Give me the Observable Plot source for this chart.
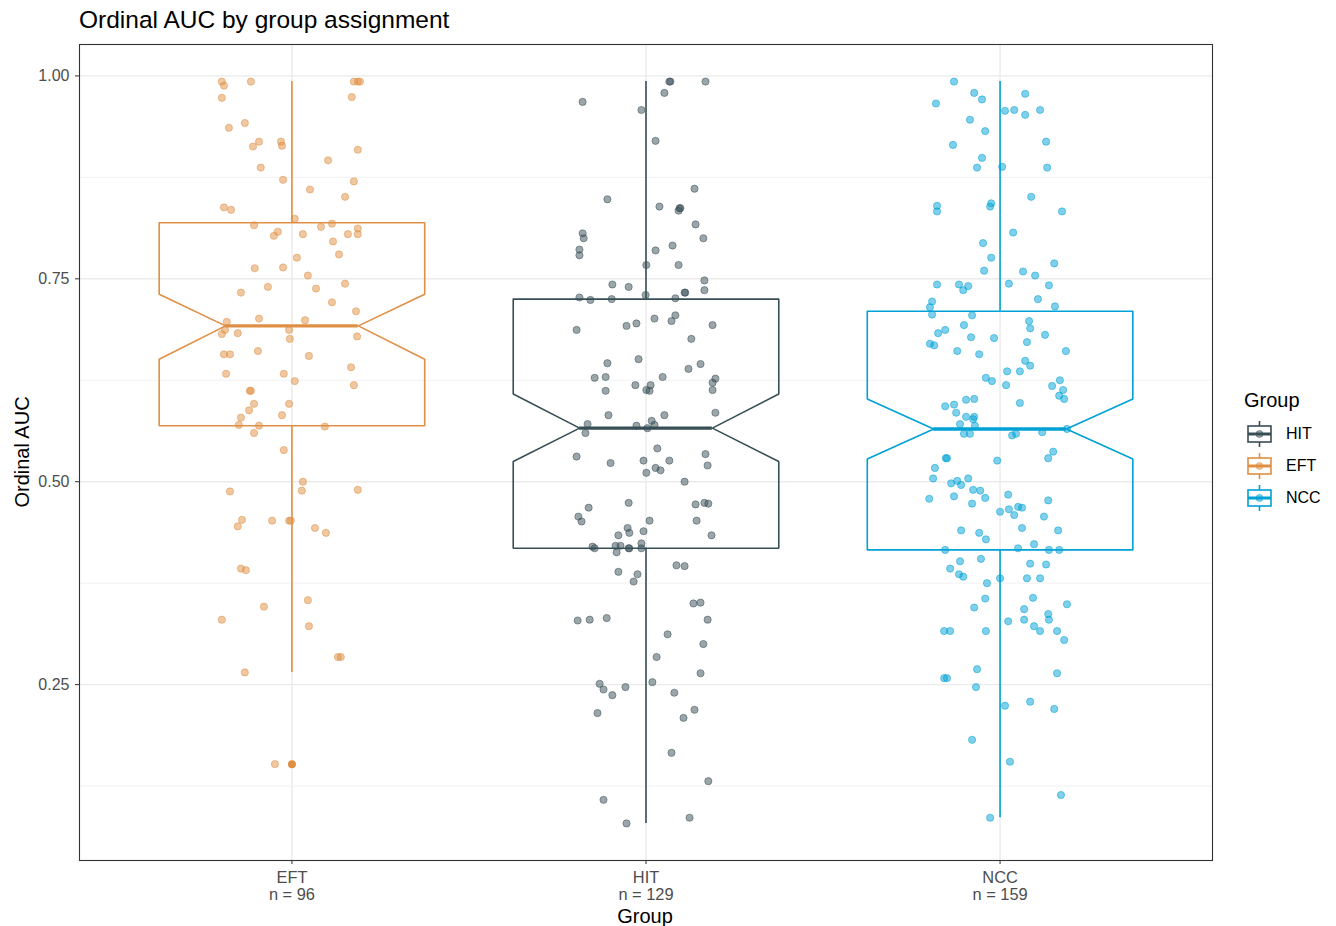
<!DOCTYPE html>
<html><head><meta charset="utf-8">
<script src="https://cdn.jsdelivr.net/npm/d3@7"></script>
<script src="https://cdn.jsdelivr.net/npm/@observablehq/plot@0.6"></script>
<style>
body{margin:0;background:#fff;font-family:"Liberation Sans",Arial,Helvetica,sans-serif;}
#wrap{position:relative;width:1336px;height:926px;overflow:hidden;background:#fff;}
#wrap > svg{position:absolute;left:0;top:0;}
.abs{position:absolute;white-space:nowrap;line-height:1;color:#000;}
</style></head><body>
<div id="wrap"></div>
<script>
// ---- data ----
const groups = ["EFT", "HIT", "NCC"];
const groupN = [96, 129, 159];
const legendOrder = ["HIT", "EFT", "NCC"];
const palette = ["#374E55", "#DF8F44", "#00A1D5"];

// box statistics (per group, same order as groups)
const q1 = [0.569, 0.418, 0.416];
const median = [0.692, 0.566, 0.565];
const q3 = [0.819, 0.725, 0.710];
const notchLow = [0.651, 0.525, 0.528];
const notchHigh = [0.731, 0.608, 0.602];
const whiskerLow = [0.265, 0.079, 0.086];
const whiskerHigh = [0.993, 0.993, 0.993];
const outlierGroup = ["EFT"];
const outlierValue = [0.152];

// jittered observations: value and horizontal jitter (in category units)
const eftValues = [0.993,0.988,0.993,0.973,0.993,0.993,0.993,0.974,0.936,0.942,0.913,0.919,0.919,0.914,0.909,0.896,0.887,0.872,0.870,0.860,0.851,0.838,0.835,0.824,0.816,0.808,0.803,0.805,0.814,0.818,0.812,0.805,0.805,0.796,0.780,0.776,0.763,0.764,0.754,0.733,0.740,0.738,0.744,0.721,0.710,0.701,0.697,0.699,0.687,0.682,0.683,0.687,0.676,0.679,0.657,0.657,0.661,0.655,0.633,0.633,0.624,0.641,0.619,0.612,0.612,0.596,0.588,0.596,0.579,0.582,0.570,0.569,0.560,0.568,0.539,0.500,0.488,0.489,0.490,0.453,0.445,0.452,0.452,0.452,0.443,0.437,0.393,0.391,0.346,0.354,0.330,0.322,0.284,0.284,0.265,0.152];
const eftJitter = [-0.198,-0.192,-0.116,-0.198,0.175,0.186,0.192,0.169,-0.178,-0.133,-0.110,-0.093,-0.031,-0.028,0.186,0.102,-0.088,-0.025,0.175,0.051,0.150,-0.192,-0.172,0.008,-0.107,-0.040,-0.051,0.031,0.082,0.113,0.186,0.158,0.186,0.116,0.133,0.014,-0.105,-0.025,0.045,-0.144,-0.068,0.068,0.150,0.113,0.181,-0.093,-0.184,0.037,-0.189,-0.198,-0.153,-0.008,-0.006,0.184,-0.192,-0.175,-0.096,0.048,-0.186,-0.023,0.008,0.167,0.175,-0.116,-0.119,-0.107,-0.121,-0.008,-0.144,-0.028,-0.150,-0.093,-0.107,0.093,-0.023,0.031,-0.175,0.028,0.186,-0.141,-0.153,-0.056,-0.008,-0.003,0.065,0.096,-0.144,-0.130,-0.079,0.045,-0.198,0.048,0.130,0.138,-0.133,-0.048];

const hitValues = [0.993,0.993,0.993,0.979,0.968,0.958,0.920,0.861,0.848,0.839,0.837,0.837,0.834,0.817,0.806,0.800,0.800,0.786,0.779,0.791,0.785,0.767,0.767,0.743,0.740,0.748,0.736,0.733,0.733,0.727,0.724,0.725,0.730,0.726,0.687,0.692,0.695,0.701,0.698,0.705,0.693,0.676,0.646,0.651,0.639,0.645,0.628,0.629,0.629,0.627,0.619,0.619,0.612,0.613,0.612,0.622,0.613,0.582,0.582,0.585,0.571,0.560,0.569,0.575,0.570,0.566,0.531,0.541,0.534,0.523,0.526,0.526,0.520,0.511,0.517,0.514,0.500,0.468,0.474,0.457,0.451,0.472,0.474,0.473,0.452,0.452,0.443,0.437,0.439,0.434,0.434,0.420,0.418,0.421,0.421,0.418,0.418,0.424,0.418,0.413,0.389,0.386,0.377,0.397,0.396,0.350,0.351,0.329,0.330,0.332,0.330,0.312,0.300,0.284,0.264,0.251,0.244,0.237,0.247,0.253,0.240,0.215,0.209,0.219,0.166,0.131,0.108,0.086,0.079];
const hitJitter = [0.066,0.069,0.168,0.052,-0.179,-0.013,0.027,0.137,-0.109,0.038,0.095,0.097,0.092,0.140,-0.179,-0.176,0.162,-0.188,-0.188,0.075,0.027,0.001,0.092,-0.095,-0.049,0.165,0.165,0.109,0.111,-0.188,-0.157,-0.097,-0.001,0.083,-0.196,-0.055,-0.027,0.024,0.072,0.083,0.188,0.128,-0.109,-0.021,0.120,0.154,-0.145,-0.114,0.047,0.196,-0.030,0.013,-0.114,0.001,0.010,0.188,0.188,-0.106,0.052,0.196,-0.165,-0.171,-0.027,0.016,0.024,0.004,-0.196,0.032,0.168,-0.100,-0.007,0.066,0.174,0.001,0.027,0.041,0.109,-0.162,-0.049,-0.191,-0.182,0.140,0.165,0.176,0.143,0.010,-0.052,-0.047,-0.007,-0.078,0.185,-0.151,-0.145,-0.086,-0.072,-0.049,-0.047,-0.013,-0.013,-0.083,-0.078,-0.024,-0.035,0.086,0.109,0.134,0.154,-0.193,-0.159,-0.111,0.174,0.061,0.162,0.030,0.154,-0.131,-0.120,-0.095,-0.058,0.018,0.080,-0.137,0.106,0.137,0.072,0.176,-0.120,0.123,-0.055];

const nccValues = [0.993,0.979,0.971,0.966,0.978,0.957,0.958,0.952,0.958,0.946,0.932,0.915,0.919,0.899,0.887,0.888,0.887,0.851,0.840,0.833,0.843,0.839,0.833,0.807,0.794,0.776,0.769,0.760,0.759,0.754,0.743,0.743,0.736,0.741,0.744,0.742,0.722,0.715,0.706,0.725,0.716,0.705,0.698,0.689,0.693,0.687,0.683,0.678,0.677,0.681,0.670,0.668,0.661,0.657,0.672,0.661,0.649,0.643,0.636,0.636,0.628,0.624,0.619,0.618,0.625,0.613,0.606,0.602,0.601,0.602,0.593,0.595,0.585,0.597,0.580,0.580,0.577,0.571,0.569,0.559,0.559,0.557,0.559,0.561,0.565,0.529,0.529,0.526,0.529,0.537,0.517,0.504,0.498,0.501,0.496,0.504,0.490,0.489,0.480,0.482,0.479,0.473,0.484,0.477,0.463,0.466,0.459,0.469,0.468,0.457,0.443,0.440,0.437,0.429,0.440,0.416,0.418,0.423,0.416,0.416,0.402,0.405,0.399,0.398,0.393,0.386,0.383,0.381,0.381,0.381,0.375,0.357,0.356,0.345,0.349,0.343,0.337,0.330,0.330,0.328,0.322,0.316,0.316,0.305,0.316,0.316,0.316,0.258,0.258,0.269,0.264,0.247,0.224,0.229,0.220,0.182,0.155,0.114,0.086];
const nccJitter = [-0.130,-0.073,-0.051,-0.181,0.071,0.014,0.040,0.071,0.113,-0.085,-0.042,-0.133,0.130,-0.051,-0.065,0.006,0.133,0.088,-0.178,-0.178,-0.025,-0.028,0.175,0.037,-0.048,-0.025,0.153,-0.045,0.065,0.099,-0.178,-0.116,-0.104,-0.090,0.025,0.138,-0.192,-0.198,-0.192,0.107,0.155,-0.079,0.082,0.085,-0.102,-0.155,-0.175,-0.082,-0.017,0.127,-0.198,-0.186,-0.121,-0.059,0.076,0.186,0.071,0.085,0.020,0.056,-0.040,-0.023,0.017,0.147,0.169,0.178,0.167,0.181,-0.096,-0.073,-0.155,-0.130,-0.124,0.056,-0.096,-0.073,-0.076,-0.113,-0.071,-0.102,-0.085,0.034,0.045,0.119,0.189,-0.153,-0.150,-0.008,0.136,0.150,-0.184,-0.189,-0.138,-0.121,-0.110,-0.090,-0.076,-0.056,-0.042,-0.130,-0.200,-0.079,0.023,0.136,0.000,0.025,0.040,0.051,0.062,0.124,0.062,-0.110,-0.059,-0.040,0.164,-0.155,0.051,0.096,0.138,0.167,-0.113,-0.054,0.085,0.130,-0.141,-0.116,-0.104,0.000,0.076,0.113,-0.037,0.093,-0.042,-0.073,0.189,0.068,0.136,0.138,0.068,0.023,0.096,0.113,0.161,0.181,-0.158,-0.141,-0.040,-0.158,-0.150,-0.065,0.161,-0.068,0.014,0.085,0.153,-0.079,0.028,0.172,-0.028];

const yTicks = [0.25, 0.50, 0.75, 1.00];
const yMinorTicks = [0.125, 0.375, 0.625, 0.875];

// ---- build tables ----
const valuesBy = {EFT: eftValues, HIT: hitValues, NCC: nccValues};
const jitterBy = {EFT: eftJitter, HIT: hitJitter, NCC: nccJitter};
const points = [];
groups.forEach((g, i) => {
  valuesBy[g].forEach((v, k) => {
    const j = jitterBy[g][k];
    if (j !== undefined) points.push({group: g, pos: i + 1 + j, value: v});
  });
});
const stats = groups.map((g, i) => ({group: g, pos: i + 1, q1: q1[i], med: median[i], q3: q3[i],
  nl: notchLow[i], nh: notchHigh[i], wl: whiskerLow[i], wh: whiskerHigh[i]}));
const halfW = 0.375, indent = 0.1875;
const outline = stats.flatMap(s => [
  [s.pos - halfW, s.q3], [s.pos - halfW, s.nh], [s.pos - halfW + indent, s.med], [s.pos - halfW, s.nl],
  [s.pos - halfW, s.q1], [s.pos + halfW, s.q1], [s.pos + halfW, s.nl], [s.pos + halfW - indent, s.med],
  [s.pos + halfW, s.nh], [s.pos + halfW, s.q3], [s.pos - halfW, s.q3]
].map(([pos, value]) => ({group: s.group, pos, value})));
const outliers = outlierGroup.map((g, i) => ({group: g, pos: groups.indexOf(g) + 1, value: outlierValue[i]}));

const allVals = [...eftValues, ...hitValues, ...nccValues];
const lo = d3.min(allVals), hi = d3.max(allVals), pad = (hi - lo) * 0.05;

const W = 1336, H = 926;
const chart = Plot.plot({
  width: W, height: H,
  marginLeft: 79, marginRight: 124, marginTop: 44, marginBottom: 66,
  style: {fontFamily: '"Liberation Sans", Arial, sans-serif', fontSize: "16px", background: "transparent", overflow: "visible"},
  x: {domain: [0.4, 3.6], axis: null},
  y: {domain: [lo - pad, hi + pad], axis: null},
  color: {domain: legendOrder, range: palette},
  marks: [
    Plot.gridY(yMinorTicks, {stroke: "#EBEBEB", strokeOpacity: 1, strokeWidth: 0.7}),
    Plot.gridY(yTicks, {stroke: "#EBEBEB", strokeOpacity: 1, strokeWidth: 1.4}),
    Plot.gridX([1, 2, 3], {stroke: "#EBEBEB", strokeOpacity: 1, strokeWidth: 1.4}),
    Plot.line(outline, {x: "pos", y: "value", z: "group", stroke: "group", strokeWidth: 1.6, curve: "linear", strokeLinejoin: "miter"}),
    Plot.ruleY(stats, {y: "med", x1: d => d.pos - halfW + indent, x2: d => d.pos + halfW - indent, stroke: "group", strokeWidth: 3.4}),
    Plot.ruleX(stats, {x: "pos", y1: "q3", y2: "wh", stroke: "group", strokeWidth: 1.6}),
    Plot.ruleX(stats, {x: "pos", y1: "q1", y2: "wl", stroke: "group", strokeWidth: 1.6}),
    Plot.dot(outliers, {x: "pos", y: "value", fill: "group", r: 4}),
    Plot.dot(points, {x: "pos", y: "value", fill: "group", stroke: "group", fillOpacity: 0.5, strokeOpacity: 0.5, strokeWidth: 1, r: 3.6}),
    Plot.frame({stroke: "#333333", strokeWidth: 1.1}),
    Plot.axisY(yTicks, {tickFormat: d3.format(".2f"), tickSize: 4, tickPadding: 6, fontSize: 16, color: "#4D4D4D", stroke: "#333333", label: null}),
    Plot.axisX([1, 2, 3], {tickFormat: d => groups[d - 1] + "\nn = " + groupN[d - 1], tickSize: 4, tickPadding: 6, fontSize: 16.4, lineHeight: 1.05, color: "#4D4D4D", stroke: "#333333", label: null})
  ]
});
const wrap = document.getElementById("wrap");
wrap.appendChild(chart);

function addText(txt, css) {
  const d = document.createElement("div");
  d.className = "abs";
  d.textContent = txt;
  Object.assign(d.style, css);
  wrap.appendChild(d);
  return d;
}
addText("Ordinal AUC by group assignment", {left: "79px", top: "8px", fontSize: "24.5px"});
addText("Ordinal AUC", {left: "22px", top: "452px", fontSize: "20px", transform: "translate(-50%,-50%) rotate(-90deg)"});
addText("Group", {left: "645px", top: "916px", fontSize: "20px", transform: "translate(-50%,-50%)"});

// legend
addText("Group", {left: "1244px", top: "400px", fontSize: "20px", transform: "translateY(-50%)"});
legendOrder.forEach((g, i) => {
  const c = palette[i];
  const cy = 434 + i * 32;
  const key = document.createElementNS("http://www.w3.org/2000/svg", "svg");
  key.setAttribute("width", 30); key.setAttribute("height", 30);
  key.style.position = "absolute"; key.style.left = "1245px"; key.style.top = (cy - 15) + "px";
  key.innerHTML = `<line x1="14.5" x2="14.5" y1="2" y2="7" stroke="${c}" stroke-width="1.6"/>
    <line x1="14.5" x2="14.5" y1="23" y2="28" stroke="${c}" stroke-width="1.6"/>
    <rect x="3" y="7" width="23" height="16" fill="none" stroke="${c}" stroke-width="1.6"/>
    <line x1="3" x2="26" y1="15" y2="15" stroke="${c}" stroke-width="3"/>
    <circle cx="14.5" cy="15" r="3.5" fill="${c}" fill-opacity="0.5" stroke="${c}" stroke-opacity="0.5"/>`;
  wrap.appendChild(key);
  addText(g, {left: "1286px", top: cy + "px", fontSize: "16px", transform: "translateY(-50%)"});
});
</script>
</body></html>
